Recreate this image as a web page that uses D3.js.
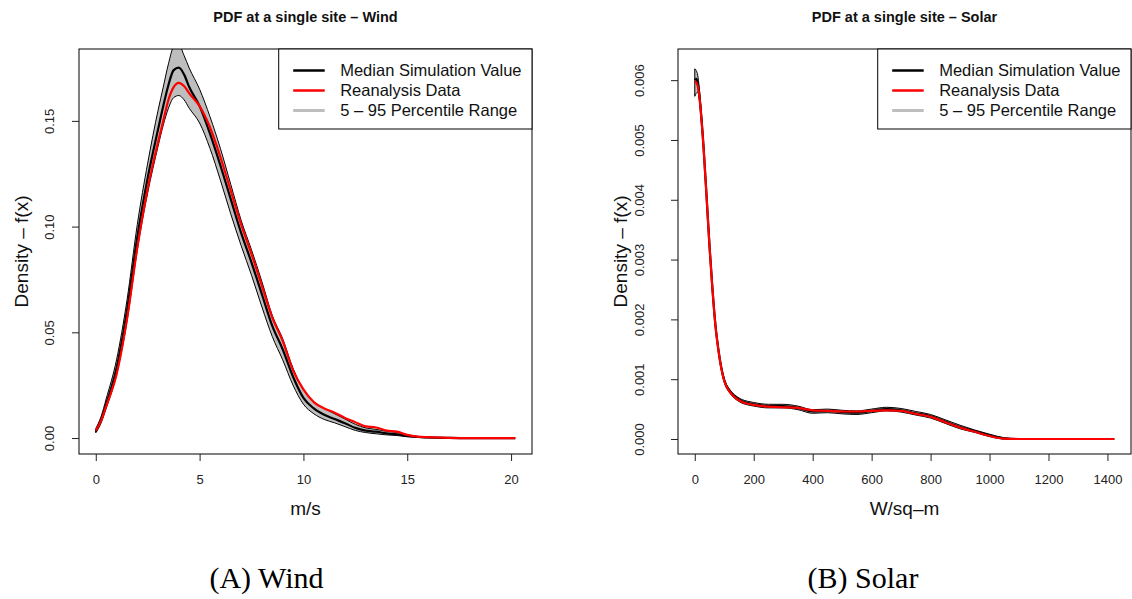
<!DOCTYPE html>
<html><head><meta charset="utf-8">
<script src="https://cdn.jsdelivr.net/npm/d3@7"></script>
<style>body{margin:0;background:#fff}svg{display:block}</style>
</head><body>
<svg id="chart" width="1132" height="599"></svg>
<script>
// ---------- Data ----------
const windX      = [0,0.25,0.5,1,1.5,2,2.5,3,3.25,3.5,3.75,4,4.25,4.5,5,5.5,6,6.5,7,7.5,8,8.5,9,9.5,10,10.5,11,11.5,12,12.5,13,13.5,14,14.5,15,15.5,16,17,18,19,20.2];
const windReanal = [0.0035,0.008,0.015,0.030,0.056,0.090,0.118,0.140,0.150,0.160,0.166,0.168,0.1665,0.163,0.157,0.147,0.133,0.117,0.101,0.087,0.072,0.057,0.046,0.032,0.023,0.017,0.014,0.012,0.0095,0.0075,0.0055,0.005,0.0035,0.003,0.0015,0.0007,0.0004,0.0001,0,0,0];
const windMedian = [0.003,0.0085,0.016,0.033,0.060,0.095,0.123,0.146,0.157,0.167,0.174,0.1752,0.172,0.166,0.157,0.144,0.129,0.113,0.097,0.083,0.068,0.053,0.042,0.029,0.019,0.014,0.011,0.009,0.007,0.0048,0.0035,0.003,0.0022,0.0018,0.0010,0.0005,0.0003,0.0001,0,0,0];
const windP95    = [0.0045,0.010,0.0185,0.037,0.065,0.101,0.130,0.155,0.166,0.177,0.185,0.186,0.181,0.175,0.165,0.152,0.137,0.120,0.103,0.089,0.074,0.058,0.047,0.033,0.023,0.017,0.014,0.0115,0.009,0.0065,0.0048,0.0041,0.0032,0.0027,0.0016,0.0008,0.0004,0.0001,0,0,0];
const windP05    = [0.0025,0.007,0.014,0.030,0.055,0.089,0.116,0.138,0.148,0.156,0.161,0.162,0.160,0.156,0.149,0.137,0.122,0.106,0.091,0.077,0.062,0.048,0.037,0.025,0.016,0.0115,0.0088,0.0072,0.0054,0.0036,0.0026,0.002,0.0015,0.0012,0.0006,0.0003,0.0001,0,0,0,0];

const solarX      = [0,5,10,15,20,30,40,50,60,70,80,90,100,120,140,160,180,200,250,300,350,400,450,500,550,600,650,700,750,800,850,900,950,1000,1050,1100,1200,1300,1423];
const solarReanal = [0.00598,0.00596,0.00590,0.00575,0.00550,0.00485,0.00405,0.00322,0.00250,0.00190,0.00149,0.00118,0.00097,0.00078,0.00068,0.00062,0.00059,0.00057,0.00054,0.00053,0.00052,0.00048,0.00047,0.00046,0.00046,0.00047,0.00048,0.00047,0.00042,0.00037,0.00028,0.00019,0.00012,0.00005,0.000005,0,0,0,0];
const solarMedian = [0.00600,0.00602,0.00595,0.00578,0.00552,0.00487,0.00406,0.00323,0.00251,0.00191,0.00150,0.00119,0.00098,0.00079,0.00069,0.00063,0.00060,0.00058,0.00055,0.00055,0.00052,0.00046,0.00047,0.00045,0.00044,0.00047,0.00050,0.00048,0.00043,0.00038,0.00029,0.00020,0.00013,0.00006,0.00001,0,0,0,0];
const solarP95    = [0.00619,0.00616,0.00608,0.00588,0.00560,0.00491,0.00410,0.00327,0.00255,0.00194,0.00153,0.00122,0.00101,0.00082,0.00072,0.00066,0.00063,0.00061,0.00058,0.00058,0.00055,0.00049,0.00050,0.00048,0.00047,0.00050,0.00053,0.00051,0.00046,0.00041,0.00032,0.00023,0.00015,0.00008,0.00002,0,0,0,0];
const solarP05    = [0.00573,0.00578,0.00580,0.00570,0.00545,0.00483,0.00402,0.00319,0.00247,0.00188,0.00147,0.00116,0.00095,0.00076,0.00066,0.00060,0.00057,0.00055,0.00052,0.00052,0.00049,0.00043,0.00044,0.00042,0.00041,0.00044,0.00047,0.00045,0.00040,0.00035,0.00026,0.00017,0.00011,0.00004,0,0,0,0,0];

const windXTicks  = [0,5,10,15,20];
const windYTicks  = [0,0.05,0.10,0.15];
const solarXTicks = [0,200,400,600,800,1000,1200,1400];
const solarYTicks = [0,0.001,0.002,0.003,0.004,0.005,0.006];

const legendLabels = ["Median Simulation Value","Reanalysis Data","5 \u2013 95 Percentile Range"];
const legendColors = ["#000000","#ff0000","#bebebe"];

// ---------- Drawing ----------
const svg = d3.select("#chart");
const FONT = "'Liberation Sans', Arial, Helvetica, sans-serif";

function panel(cfg){
  const {id, box, xDom, yDom, xs, med, rea, p95, p05, xTicks, yTicks, yFmt, title, xlab, caption, capX, legLeft} = cfg;
  const x = d3.scaleLinear().domain(xDom).range([box.l, box.r]);
  const y = d3.scaleLinear().domain(yDom).range([box.b, box.t]);
  const g = svg.append("g");

  g.append("clipPath").attr("id", "clip"+id).append("rect")
    .attr("x", box.l).attr("y", box.t).attr("width", box.r-box.l).attr("height", box.b-box.t);
  const plot = g.append("g").attr("clip-path", `url(#clip${id})`);

  const upper = xs.map((v,i)=>[v,p95[i]]);
  const lower = xs.map((v,i)=>[v,p05[i]]);
  const area = d3.area().x(d=>x(d[0])).y0(d=>y(d[2])).y1(d=>y(d[1])).curve(d3.curveMonotoneX);
  plot.append("path").datum(xs.map((v,i)=>[v,p95[i],p05[i]]))
    .attr("d", area).attr("fill","#bebebe").attr("stroke","none");
  const ln = d3.line().x(d=>x(d[0])).y(d=>y(d[1])).curve(d3.curveMonotoneX);
  plot.append("path").datum(upper).attr("d", ln).attr("fill","none").attr("stroke","#000").attr("stroke-width",1);
  plot.append("path").datum(lower).attr("d", ln).attr("fill","none").attr("stroke","#000").attr("stroke-width",1);
  plot.append("line").attr("x1", x(xs[0])).attr("x2", x(xs[0])).attr("y1", y(p95[0])).attr("y2", y(p05[0])).attr("stroke","#000").attr("stroke-width",1);
  plot.append("path").datum(xs.map((v,i)=>[v,med[i]])).attr("d", ln).attr("fill","none").attr("stroke","#000").attr("stroke-width",2.2);
  plot.append("path").datum(xs.map((v,i)=>[v,rea[i]])).attr("d", ln).attr("fill","none").attr("stroke","#ff0000").attr("stroke-width",2.2);

  // box
  g.append("rect").attr("x", box.l).attr("y", box.t).attr("width", box.r-box.l).attr("height", box.b-box.t)
    .attr("fill","none").attr("stroke","#000").attr("stroke-width",1);

  // axes
  const xa = g.append("g").attr("transform", `translate(0,${box.b})`)
    .call(d3.axisBottom(x).tickValues(xTicks).tickFormat(d3.format("d")).tickSize(7).tickSizeOuter(0).tickPadding(14));
  xa.select(".domain").remove();
  xa.selectAll("line").attr("stroke","#222");
  xa.selectAll("text").attr("font-family", FONT).attr("font-size", 13).attr("fill","#222");

  const ya = g.append("g").attr("transform", `translate(${box.l},0)`)
    .call(d3.axisLeft(y).tickValues(yTicks).tickFormat(yFmt).tickSize(7).tickSizeOuter(0));
  ya.select(".domain").remove();
  ya.selectAll("line").attr("stroke","#222");
  ya.selectAll("text").attr("font-family", FONT).attr("font-size", 13).attr("fill","#222")
    .attr("text-anchor","middle").attr("dy", null)
    .attr("transform", `translate(${cfg.yLabX - box.l},0) rotate(-90)`)
    .attr("x", 0).attr("y", 0);

  // titles
  const cx = (box.l+box.r)/2;
  g.append("text").attr("x", cx).attr("y", 22).attr("text-anchor","middle")
    .attr("font-family", FONT).attr("font-weight","bold").attr("font-size", 14.5).attr("fill","#111").text(title);
  g.append("text").attr("x", cx).attr("y", 515).attr("text-anchor","middle")
    .attr("font-family", FONT).attr("font-size", 19).attr("fill","#111").text(xlab);
  g.append("text").attr("transform", `translate(${cfg.yTitleX},${(box.t+box.b)/2}) rotate(-90)`)
    .attr("text-anchor","middle").attr("font-family", FONT).attr("font-size", 19).attr("fill","#111")
    .text("Density \u2013 f(x)");
  g.append("text").attr("x", capX).attr("y", 588).attr("text-anchor","middle")
    .attr("font-family", "'Liberation Serif', 'Times New Roman', serif").attr("font-size", 30).attr("fill","#000")
    .text(caption);

  // legend
  const lg = g.append("g");
  lg.append("rect").attr("x", legLeft).attr("y", box.t).attr("width", box.r-legLeft).attr("height", 80)
    .attr("fill","#fff").attr("stroke","#000").attr("stroke-width",1);
  const rowY = d3.scalePoint().domain(legendLabels).range([box.t+21.5, box.t+61.5]);
  legendLabels.forEach((lab,i)=>{
    lg.append("line").attr("x1", legLeft+14.5).attr("x2", legLeft+46)
      .attr("y1", rowY(lab)).attr("y2", rowY(lab)).attr("stroke", legendColors[i]).attr("stroke-width", i===2?3:2.5);
    lg.append("text").attr("x", legLeft+61.5).attr("y", rowY(lab)).attr("dy","0.35em")
      .attr("font-family", FONT).attr("font-size", 16.5).attr("fill","#111").text(lab);
  });
}

panel({id:"w", box:{l:79,r:532,t:49,b:454}, xDom:[-0.808,21.008], yDom:[-0.00755,0.184],
  xs:windX, med:windMedian, rea:windReanal, p95:windP95, p05:windP05,
  xTicks:windXTicks, yTicks:windYTicks, yFmt:d3.format(".2f"),
  title:"PDF at a single site \u2013 Wind", xlab:"m/s", caption:"(A) Wind", capX:266.5,
  legLeft:278.7, yLabX:53.5, yTitleX:28});

panel({id:"s", box:{l:678,r:1131,t:49,b:454}, xDom:[-56.9,1479.9], yDom:[-0.000251,0.006521],
  xs:solarX, med:solarMedian, rea:solarReanal, p95:solarP95, p05:solarP05,
  xTicks:solarXTicks, yTicks:solarYTicks, yFmt:d3.format(".3f"),
  title:"PDF at a single site \u2013 Solar", xlab:"W/sq\u2013m", caption:"(B) Solar", capX:863,
  legLeft:877.7, yLabX:644, yTitleX:627});
</script>
</body></html>
